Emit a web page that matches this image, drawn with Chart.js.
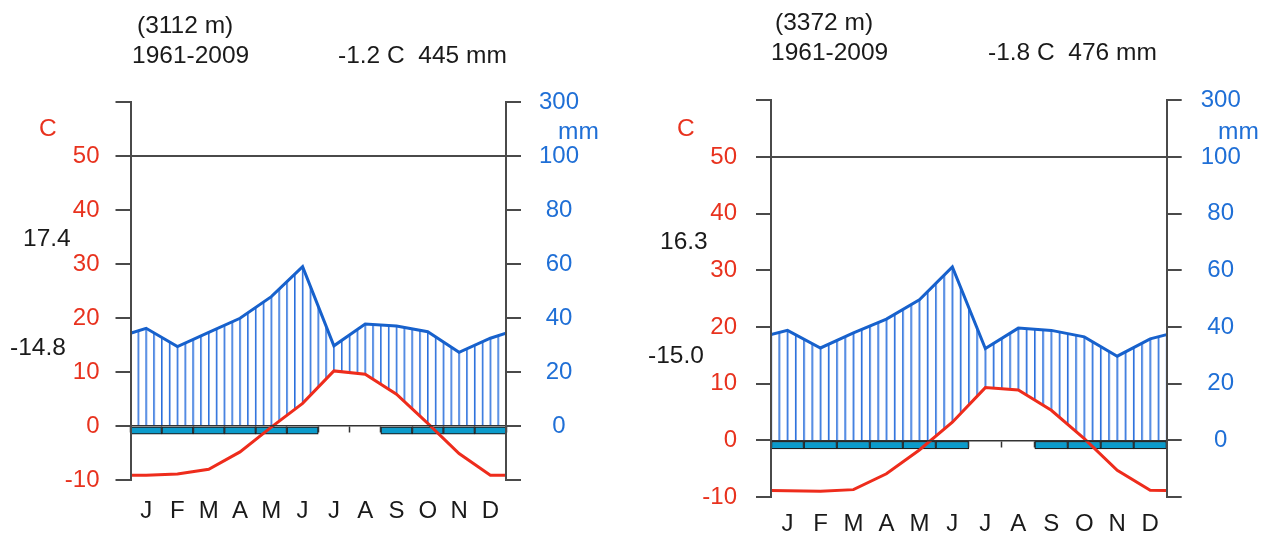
<!DOCTYPE html>
<html>
<head>
<meta charset="utf-8">
<script src="https://cdn.jsdelivr.net/npm/chart.js@4.4.1/dist/chart.umd.min.js"></script>
<style>
  html, body { margin: 0; padding: 0; background: #fff; }
  body { width: 1264px; height: 541px; position: relative; overflow: hidden;
         font-family: 'Liberation Sans', Arial, Helvetica, sans-serif; }
  .box { position: absolute; top: 0; width: 632px; height: 541px; }
  .t { position: absolute; font-size: 24.5px; line-height: 28px; color: #1a1a1a; white-space: pre; }
  .red { color: #e8321e; }
  .blue { color: #1f6fd6; }
</style>
</head>
<body>
<div class="box" style="left:0"><canvas id="wlA"></canvas></div>
<div class="box" style="left:632px"><canvas id="wlB"></canvas></div>
<div id="labels"></div>
<script>
// station info
const altitude = ['(3112 m)', '(3372 m)'];
const period = ['1961-2009', '1961-2009'];
const meanTemp = [-1.2, -1.8];
const totalPrec = [445, 476];
const maxWarmest = [17.4, 16.3];
const minColdest = [-14.8, -15.0];

const months = ['J', 'F', 'M', 'A', 'M', 'J', 'J', 'A', 'S', 'O', 'N', 'D'];

// monthly means, C and mm
const tempA = [-9.1, -8.9, -8.0, -4.8, -0.2, 4.2, 10.2, 9.6, 5.9, 0.5, -5.1, -9.1];
const precA = [36.2, 29.4, 34.7, 39.9, 47.9, 59.0, 29.7, 37.8, 37.0, 34.9, 27.3, 32.5];
const tempB = [-8.9, -9.0, -8.7, -5.9, -1.7, 3.2, 9.3, 8.9, 5.3, 0.3, -5.3, -8.8];
const precB = [38.8, 32.6, 37.9, 42.8, 49.6, 61.2, 32.4, 39.6, 38.8, 36.5, 29.7, 35.8];

// months with sure frost (blue boxes under the zero line)
const frostA = [1, 1, 1, 1, 1, 1, 0, 0, 1, 1, 1, 1];
const frostB = [1, 1, 1, 1, 1, 1, 0, 0, 1, 1, 1, 1];

// axis ticks (left in C, right in mm)
const tempTicks = [-10, 0, 10, 20, 30, 40, 50, 60];
const tempTickLabels = ['-10', '0', '10', '20', '30', '40', '50', ''];
const precTickLabels = ['', '0', '20', '40', '60', '80', '100', '300'];

const RED = '#ee2c1c';
const RED_TXT = '#e8321e';
const BLUE = '#1761cc';
const BLUE_TXT = '#1f6fd6';
const AXIS = '#4a4a4a';
const FONT = { family: "'Liberation Sans', Arial, sans-serif", size: 24 };

Chart.defaults.font.family = FONT.family;

// mm -> C units (2 mm per degree, compressed 1:10 above 100 mm)
function precToT(p) {
  return p <= 100 ? p / 2 : 50 + (p - 100) / 20;
}

// yearly curve, closed at both edges with the Dec/Jan mean
function curve(vals) {
  const edge = (vals[11] + vals[0]) / 2;
  return [{ x: 0, y: edge }]
    .concat(vals.map((v, i) => ({ x: i + 0.5, y: v })))
    .concat([{ x: 12, y: edge }]);
}

function hatch(chart) {
  const area = chart.chartArea;
  if (!area) return 'transparent';
  const step = (area.right - area.left) / 48;
  const tile = document.createElement('canvas');
  tile.width = 8;
  tile.height = 4;
  const t = tile.getContext('2d');
  t.fillStyle = '#2a6fdc';
  t.fillRect(0, 0, 1.6, 4);
  const p = chart.ctx.createPattern(tile, 'repeat');
  const sx = step / 8;
  p.setTransform(new DOMMatrix().translate(area.left - 0.8 * sx, 0).scale(sx, 1));
  return p;
}

function walterLieth(id, temp, prec, frost, g) {
  new Chart(document.getElementById(id), {
    type: 'line',
    data: {
      datasets: [{
        label: 'Temperatura',
        data: curve(temp),
        xAxisID: 'x', yAxisID: 'y',
        borderColor: RED,
        borderWidth: 3,
        pointRadius: 0,
        tension: 0,
        order: 0,
        fill: { target: 'origin', above: '#ffffff', below: 'rgba(0,0,0,0)' }
      }, {
        type: 'bar',
        label: 'Helada',
        data: frost.map((f, i) => ({ x: i + 0.5, y: f ? [-1.5, 0] : null })),
        xAxisID: 'x', yAxisID: 'y',
        backgroundColor: '#0b9bcb',
        borderColor: '#1e1e1e',
        borderWidth: 1.2,
        borderSkipped: false,
        categoryPercentage: 1,
        barPercentage: 1,
        order: 1
      }, {
        label: 'Precipitacion',
        data: curve(prec.map(precToT)),
        xAxisID: 'x', yAxisID: 'y',
        borderColor: BLUE,
        borderWidth: 3,
        pointRadius: 0,
        tension: 0,
        order: 2,
        fill: 'origin',
        backgroundColor: ctx => hatch(ctx.chart)
      }]
    },
    options: {
      responsive: true,
      maintainAspectRatio: false,
      animation: false,
      layout: { padding: { top: g.top, left: 0, right: 0, bottom: 0 } },
      plugins: { legend: { display: false }, tooltip: { enabled: false } },
      scales: {
        x: {
          type: 'linear', min: 0, max: 12, offset: false,
          afterBuildTicks: s => { s.ticks = months.map((m, i) => ({ value: i + 0.5 })); },
          afterFit: s => { s.height = g.bottom; },
          ticks: {
            callback: (v, i) => months[i],
            color: '#1a1a1a', font: FONT, padding: g.xPad,
            maxRotation: 0, autoSkip: false
          },
          grid: { display: false, drawTicks: false },
          border: { display: false }
        },
        zero: {
          type: 'linear', axis: 'x', position: { y: 0 }, min: 0, max: 12,
          afterFit: s => { s.height = 0; },
          ticks: { display: false, stepSize: 1 },
          grid: { drawOnChartArea: false, tickLength: 6, tickColor: '#333', tickWidth: 1.5, z: 1 },
          border: { color: '#333', width: 1.5, z: 1 }
        },
        y: {
          position: 'left', min: -10, max: 60,
          afterBuildTicks: s => { s.ticks = tempTicks.map(v => ({ value: v })); },
          afterFit: s => { s.width = g.axL; },
          ticks: { callback: (v, i) => tempTickLabels[i], color: RED_TXT, font: FONT, padding: g.padL },
          grid: {
            color: c => (c.tick && c.tick.value === 50 ? AXIS : 'rgba(0,0,0,0)'),
            lineWidth: 2, tickColor: AXIS, tickWidth: 2, tickLength: 15
          },
          border: { color: AXIS, width: 2, z: 1 }
        },
        y2: {
          position: 'right', min: -10, max: 60,
          afterBuildTicks: s => { s.ticks = tempTicks.map(v => ({ value: v })); },
          afterFit: s => { s.width = g.axR; },
          ticks: { callback: (v, i) => precTickLabels[i], color: BLUE_TXT, font: FONT, padding: g.padR, crossAlign: 'center' },
          grid: { drawOnChartArea: false, lineWidth: 2, tickColor: AXIS, tickWidth: 2, tickLength: 15 },
          border: { color: AXIS, width: 2, z: 1 }
        }
      }
    }
  });
}

walterLieth('wlA', tempA, precA, frostA, { top: 102, bottom: 61, axL: 130.5, axR: 126, padL: 16, padR: 18, xPad: 17 });
walterLieth('wlB', tempB, precB, frostB, { top: 100.3, bottom: 44, axL: 139, axR: 97.3, padL: 19, padR: 19, xPad: 13 });

// header and side texts
const spots = [
  { alt: [137, 25], per: [132, 55], sum: [338, 55], c: [39, 128], mm: [558, 131], max: [23, 238], min: [10, 347] },
  { alt: [775, 22], per: [771, 52], sum: [988, 52], c: [677, 128], mm: [1218, 131], max: [660, 241], min: [648, 355] }
];
const holder = document.getElementById('labels');
function put(text, pos, cls) {
  const d = document.createElement('div');
  d.className = 't' + (cls ? ' ' + cls : '');
  d.textContent = text;
  d.style.left = pos[0] + 'px';
  d.style.top = (pos[1] - 14) + 'px';
  holder.appendChild(d);
}
spots.forEach((s, k) => {
  put(altitude[k], s.alt);
  put(period[k], s.per);
  put(meanTemp[k].toFixed(1) + ' C  ' + totalPrec[k] + ' mm', s.sum);
  put('C', s.c, 'red');
  put('mm', s.mm, 'blue');
  put(maxWarmest[k].toFixed(1), s.max);
  put(minColdest[k].toFixed(1), s.min);
});
</script>
</body>
</html>
